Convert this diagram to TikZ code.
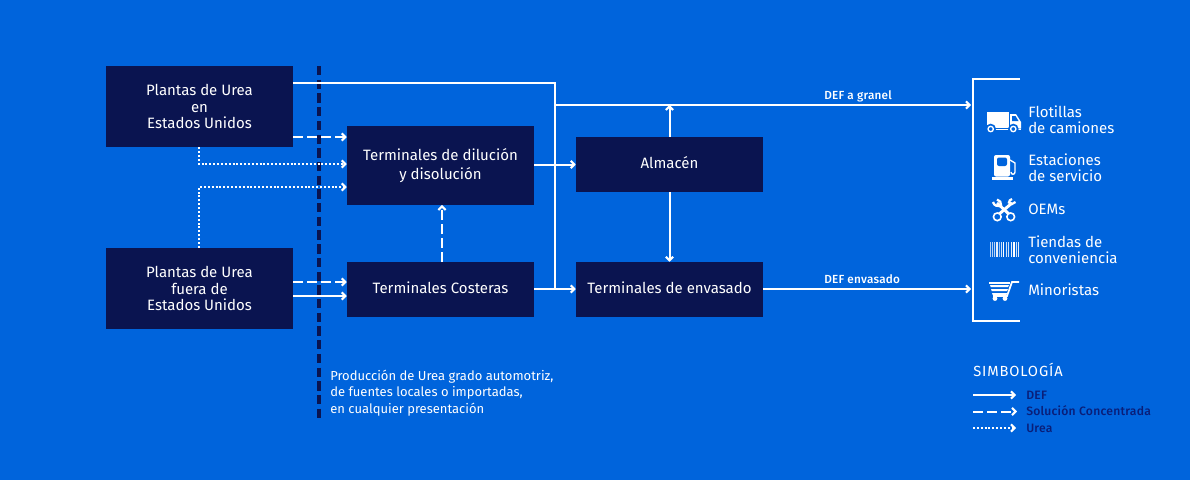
\documentclass[tikz,border=0pt]{standalone}
\usepackage{fontspec}
\setmainfont{Fira Sans}
\newfontfamily\medfont[LetterSpace=2]{Fira Sans Medium}
\usetikzlibrary{arrows.meta}
\definecolor{bgblue}{HTML}{0064DC}
\definecolor{navybox}{HTML}{0A1450}
\definecolor{navytxt}{HTML}{0A1E78}
\tikzset{
 box/.style={fill=navybox,text=white,font=\fontsize{11.25}{12.4}\selectfont,align=center,inner sep=0pt},
 oneline/.style={text height=9pt,text depth=3pt},
 wide/.style={minimum width=140.25pt},
 solidline/.style={draw=white,line width=1.5pt,-{Straight Barb[length=2.6pt,width=5.5pt,line width=1.6pt]}},
 plainline/.style={draw=white,line width=1.5pt},
 dashline/.style={solidline,dash pattern=on 7.5pt off 3pt},
 dotline/.style={solidline,line width=1.9pt,dash pattern=on 1.5pt off 1.4pt},
 outlabel/.style={text=white,font=\fontsize{11.25}{12.2}\selectfont,align=left,anchor=west,inner sep=0pt},
 flowlabel/.style={text=white,font=\fontsize{8.8}{10}\medfont,anchor=west,inner sep=0pt},
 legendlabel/.style={text=navytxt,font=\fontsize{9.1}{10}\medfont,anchor=west,inner sep=0pt},
 icon/.style={fill=white,draw=none},
}
\begin{document}
\begin{tikzpicture}[x=0.75pt,y=-0.75pt]
\useasboundingbox (0,0) rectangle (1190,480);
\fill[bgblue] (0,0) rectangle (1190,480);
% boundary
\coordinate (bt) at (319,66);
\coordinate (bb) at (319,418);
\draw[navybox,line width=2.4pt,dash pattern=on 7pt off 3.28pt] (bt) -- (bb);
% boxes
\node[box,wide,minimum height=60.75pt] (A) at (199.5,106.5) {Plantas de Urea\\en\\Estados Unidos};
\node[box,wide,minimum height=60.75pt] (B) at (199.5,288.5) {Plantas de Urea\\fuera de\\Estados Unidos};
\node[box,wide,minimum height=59.25pt,font=\fontsize{11.25}{14.2}\selectfont] (C) at (440.5,165.5) {Terminales de dilución\\y disolución};
\node[box,wide,oneline,minimum height=41.25pt] (D) at (440.5,289.5) {Terminales Costeras};
\node[box,wide,oneline,minimum height=41.25pt] (E) at (669.5,164.5) {Almacén};
\node[box,wide,oneline,minimum height=41.25pt] (F) at (669.5,289.5) {Terminales de envasado};
% junctions
\coordinate (j1) at (555,83);
\coordinate (j2) at (555,289);
\coordinate (j3) at (555,105);
\coordinate (g1) at (971,105);
\coordinate (g2) at (971,289);
\coordinate (k1) at (199,164);
\coordinate (k2) at (199,187);
% connectors
\draw[plainline] (A.east |- j1) -- (j1) -- (j2);
\draw[solidline] (j3) -- (g1);
\draw[solidline] (D.east |- j2) -- (F.west |- j2);
\draw[solidline] (C.east |- E) -- (E.west);
\draw[solidline] (E.north) -- (E.north |- j3);
\draw[solidline] (E.south) -- (F.north);
\draw[solidline] (F.east |- j2) -- (g2);
\draw[dashline] (A.east |- 0,137) -- (C.west |- 0,137);
\draw[dotline] (k1 |- A.south) -- (k1) -- (C.west |- k1);
\draw[dotline] (k2 |- B.north) -- (k2) -- (C.west |- k2);
\draw[dashline] (B.east |- 0,282) -- (D.west |- 0,282);
\draw[solidline] (B.east |- 0,296) -- (D.west |- 0,296);
\draw[dashline] (442,262) -- (442,205);
% flow labels
\node[flowlabel] (l1) at (824,96) {DEF a granel};
\node[flowlabel] (l2) at (824,279.5) {DEF envasado};
% note
\node[outlabel,font=\fontsize{9.75}{12.4}\selectfont,anchor=north west] (note) at (330,369.5) {Producción de Urea grado automotriz,\\de fuentes locales o importadas,\\en cualquier presentación};
% bracket
\draw[white,line width=1.5pt] (1020,79) -- (973,79) -- (973,321) -- (1020,321);
% outputs
\node[outlabel] (o1) at (1028,120) {Flotillas\\de camiones};
\node[outlabel] (o2) at (1028,168) {Estaciones\\de servicio};
\node[outlabel] (o3) at (1028,209.5) {OEMs};
\node[outlabel] (o4) at (1028,249.5) {Tiendas de\\conveniencia};
\node[outlabel] (o5) at (1028,290) {Minoristas};
% truck
\fill[icon] (987,112) rectangle (1009,127.5);
\fill[icon] (1010,114) -- (1016,114) -- (1021,122) -- (1021,128.5) -- (1010,128.5) -- cycle;
\fill[icon] (987,128.5) rectangle (1021,129.5);
\fill[bgblue] (1012,116) -- (1015.5,116) -- (1018.5,121) -- (1012,121) -- cycle;
\foreach \w in {990.7,1013.3}{\fill[bgblue] (\w,129) circle[radius=4pt];\draw[white,fill=bgblue,line width=1pt] (\w,129) circle[radius=2pt];}
% pump
\fill[icon,rounded corners=1.5pt] (994,155) rectangle (1010,176.5);
\fill[icon] (992,177) rectangle (1013,180);
\fill[bgblue,rounded corners=1.5pt] (997,157.5) rectangle (1007,166);
\draw[white,line width=1pt] (1010,160) -- (1015,163) -- (1015,172) .. controls (1015,175) and (1011,175) .. (1011,172);
% wrench and spanner
\draw[white,line width=2.2pt] (998,215) -- (1012,203);
\draw[white,line width=2.2pt] (1010,215) -- (997,203);
\draw[white,fill=bgblue,line width=1.2pt] (997.3,216.8) circle[radius=2.9pt];
\draw[white,fill=bgblue,line width=1.2pt] (1010.7,216.8) circle[radius=2.9pt];
\draw[white,line width=1.7pt] (993,202) .. controls (994,206) and (998,207) .. (1001,205) .. controls (1001.5,203) and (1000,200) .. (997,199.5);
\draw[white,line width=1.7pt] (1015.5,202) -- (1012,204) -- (1009,202.5) .. controls (1009,201) and (1010,199.5) .. (1012,199);
% barcode
\foreach \bx/\bw/\op in {989.5/1/.7,991.5/0.8/.7,993.5/1.2/.7,996/1.5/.9,998.5/0.8/.6,1000.5/1.6/.8,1003/1.2/1,1005.5/0.8/.8,1007.5/1.8/.8,1010.5/0.8/.9,1013/1.5/1,1015.5/0.8/.8,1017.5/1.2/.9}
 {\fill[white,opacity=\op] (\bx,242) rectangle ++(\bw,15);}
% cart
\draw[white,line width=1.3pt] (1019,282) -- (1012,282) -- (1007,296) -- (993,296);
\draw[white,line width=1.3pt] (989,283) -- (1010,283);
\fill[white] (990,285) -- (1009,285) -- (1008,287) -- (990.7,287) -- cycle;
\fill[white] (991,289) -- (1008,289) -- (1007,291) -- (991.7,291) -- cycle;
\fill[white] (992,293) -- (1007,293) -- (1006.5,295) -- (992.7,295) -- cycle;
\fill[white] (995,298.5) circle[radius=1.8pt];
\fill[white] (1005,298.5) circle[radius=1.8pt];
% legend
\node[outlabel,font=\fontsize{11}{12}\selectfont\addfontfeature{LetterSpace=6}] (sim) at (973,369.5) {SIMBOLOGÍA};
\node[legendlabel] (d1) at (1026,395) {DEF};
\node[legendlabel] (d2) at (1026,411) {Solución Concentrada};
\node[legendlabel] (d3) at (1026,428) {Urea};
\coordinate (s1) at (973,395);
\coordinate (s2) at (973,411.5);
\coordinate (s3) at (973,428);
\coordinate (e1) at (1016,395);
\coordinate (e2) at (1017,411.5);
\coordinate (e3) at (1016,428);
\draw[solidline] (s1) -- (e1);
\draw[dashline] (s2) -- (e2);
\draw[dotline] (s3) -- (e3);
\end{tikzpicture}
\end{document}
